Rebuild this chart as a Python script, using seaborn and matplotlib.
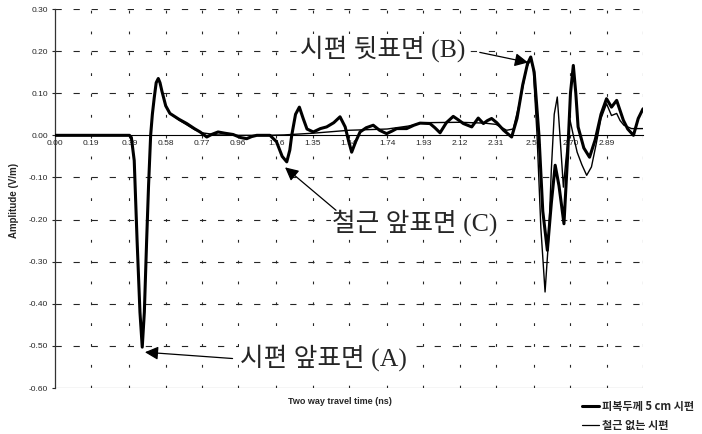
import numpy as np
import pandas as pd
import matplotlib
matplotlib.use("Agg")
import matplotlib.pyplot as plt
import seaborn as sns
from matplotlib.lines import Line2D

# two way travel time (ns) and amplitude (V/m)
t_cover5 = [0.00, 0.39, 0.40, 0.415, 0.43, 0.445, 0.457, 0.468, 0.48, 0.49, 0.501, 0.51,
            0.52, 0.53, 0.541, 0.55, 0.56, 0.58, 0.602,
            0.65, 0.69, 0.73, 0.76, 0.795, 0.82, 0.854, 0.89, 0.933, 0.97, 1.004, 1.03,
            1.057, 1.126, 1.16, 1.19, 1.214, 1.23, 1.24, 1.26, 1.28, 1.30, 1.32, 1.353,
            1.39, 1.423, 1.46, 1.493, 1.52, 1.536, 1.554, 1.575, 1.598, 1.63, 1.667, 1.70,
            1.737, 1.765, 1.79, 1.842, 1.88, 1.912, 1.964, 1.99, 2.017, 2.05, 2.086, 2.115,
            2.139, 2.183, 2.217, 2.244, 2.265, 2.287, 2.314, 2.35, 2.392, 2.42, 2.45, 2.475,
            2.492, 2.51, 2.535, 2.555, 2.579, 2.60, 2.62, 2.64, 2.666, 2.685, 2.70, 2.715,
            2.728, 2.74, 2.77, 2.80, 2.83, 2.86, 2.889, 2.915, 2.942, 2.977, 3.00, 3.03,
            3.055, 3.08]
a_cover5 = [0.0, 0.0, -0.005, -0.06, -0.25, -0.42, -0.503, -0.42, -0.25, -0.12, 0.0, 0.05,
            0.09, 0.125, 0.135, 0.125, 0.105, 0.07, 0.052,
            0.038, 0.028, 0.016, 0.008, -0.004, 0.002, 0.008, 0.005, 0.002, -0.005, -0.008, -0.003,
            0.0, 0.0, -0.015, -0.05, -0.063, -0.035, 0.0, 0.05, 0.067, 0.04, 0.015, 0.008,
            0.016, 0.02, 0.03, 0.044, 0.02, -0.01, -0.04, -0.015, 0.008, 0.018, 0.024, 0.012,
            0.004, 0.01, 0.016, 0.016, 0.024, 0.029, 0.028, 0.018, 0.006, 0.03, 0.045, 0.036,
            0.028, 0.02, 0.041, 0.028, 0.035, 0.04, 0.03, 0.012, -0.004, 0.04, 0.12, 0.17,
            0.186, 0.15, 0.0, -0.18, -0.273, -0.16, -0.071, -0.12, -0.21, -0.05, 0.10, 0.166,
            0.10, 0.02, -0.03, -0.052, -0.01, 0.05, 0.087, 0.067, 0.083, 0.036, 0.015, 0.0,
            0.04, 0.063]

t_norebar = [0.00, 0.39, 0.40, 0.415, 0.43, 0.445, 0.457, 0.468, 0.48, 0.49, 0.501, 0.51,
             0.52, 0.53, 0.541, 0.55, 0.56, 0.58, 0.602,
             0.65, 0.69, 0.73, 0.77, 0.85, 0.96, 1.10, 1.20, 1.35, 1.54, 1.74, 1.85, 1.93,
             2.12, 2.25, 2.31, 2.366, 2.40, 2.44, 2.47, 2.49, 2.505, 2.525, 2.545, 2.567,
             2.585, 2.60, 2.615, 2.631, 2.645, 2.663, 2.68, 2.698, 2.715, 2.735, 2.76, 2.785,
             2.81, 2.835, 2.86, 2.889, 2.915, 2.942, 2.96, 2.98, 3.02, 3.08]
a_norebar = [0.0, 0.0, -0.005, -0.06, -0.25, -0.42, -0.503, -0.42, -0.25, -0.12, 0.0, 0.05,
             0.09, 0.125, 0.135, 0.125, 0.105, 0.07, 0.052,
             0.036, 0.025, 0.014, 0.006, 0.001, 0.0, 0.0, 0.001, 0.005, 0.012, 0.015, 0.022, 0.03,
             0.031, 0.029, 0.026, 0.012, 0.015, 0.09, 0.16, 0.18, 0.16, 0.0, -0.22, -0.372,
             -0.25, -0.08, 0.05, 0.091, 0.0, -0.123, -0.04, 0.036, 0.0, -0.04, -0.07, -0.095,
             -0.075, -0.02, 0.04, 0.075, 0.047, 0.052, 0.035, 0.024, 0.016, 0.016]

x_tick_labels = ["0.00", "0.19", "0.39", "0.58", "0.77", "0.96", "1.16", "1.35",
                 "1.54", "1.74", "1.93", "2.12", "2.31", "2.51", "2.70", "2.89"]
y_ticks = [0.3, 0.2, 0.1, 0.0, -0.1, -0.2, -0.3, -0.4, -0.5, -0.6]

label_cover5 = "피복두께 5 cm 시편"
label_norebar = "철근 없는 시편"

sns.set_style("white")
plt.rcParams["font.family"] = ["Liberation Sans", "Noto Sans CJK KR", "DejaVu Sans"]
plt.rcParams["lines.scale_dashes"] = False

fig = plt.figure(figsize=(7.02, 4.34), dpi=100)
ax = fig.add_axes([55 / 702, 1 - 388 / 434, 588 / 702, 379 / 434])

x_max = 3.08
ax.set_xlim(0, x_max)
ax.set_ylim(-0.6, 0.3)

# grid: sparse dashes like the scanned excel chart
for y in y_ticks:
    if y in (0.0, -0.6):
        continue
    ax.axhline(y, color="0.15", lw=0.8, dashes=(4.5, 8.5), zorder=1)
grid_x = [float(s) for s in x_tick_labels[1:]] + [x_max]
for x in grid_x:
    ax.axvline(x, color="0.15", lw=0.8, dashes=(2.0, 13.0), zorder=1)
ax.axhline(-0.6, color="0.3", lw=0.8, zorder=1)

sns.lineplot(x=t_norebar, y=a_norebar, ax=ax, color="black", lw=1.0,
             estimator=None, sort=False, zorder=3)
sns.lineplot(x=t_cover5, y=a_cover5, ax=ax, color="black", lw=2.2,
             estimator=None, sort=False, zorder=4)

for s in ["top", "right"]:
    ax.spines[s].set_visible(False)
ax.spines["bottom"].set_position(("data", 0))
ax.spines["bottom"].set_linewidth(0.8)
ax.spines["left"].set_linewidth(0.9)
ax.spines["bottom"].set_color("black")
ax.spines["left"].set_color("0.2")

ax.set_xticks([float(s) for s in x_tick_labels])
ax.set_xticklabels(x_tick_labels, fontsize=6)
ax.set_yticks(y_ticks)
ax.set_yticklabels([f"{v:.2f}" for v in y_ticks], fontsize=6)
ax.tick_params(axis="x", length=0, pad=3)
ax.tick_params(axis="y", length=2, pad=3, direction="out", left=True)

fig.text(14 / 702, 1 - 200 / 434, "Amplitude (V/m)", rotation=90, fontsize=7,
         fontweight="bold", ha="center", va="center")
fig.text(340 / 702, 1 - 401 / 434, "Two way travel time (ns)", fontsize=6.5,
         fontweight="bold", ha="center", va="center")

ann_font = ["Liberation Serif", "Noto Sans CJK KR"]
box = dict(facecolor="white", edgecolor="none", pad=0.5)
arrow = dict(arrowstyle="-|>", mutation_scale=20, lw=0.9, color="black",
             shrinkA=0, shrinkB=0)
# labels
ax.text(0.969, -0.527, "시편 앞표면 (A)", fontsize=18.5, family=ann_font,
        va="center", ha="left", bbox=box, zorder=5)
ax.text(1.283, 0.207, "시편 뒷표면 (B)", fontsize=18.5, family=ann_font,
        va="center", ha="left", bbox=box, zorder=5)
ax.text(1.451, -0.207, "철근 앞표면 (C)", fontsize=18.5, family=ann_font,
        va="center", ha="left", bbox=box, zorder=5)
# arrows
ax.annotate("", xy=(0.471, -0.515), xytext=(0.93, -0.53), arrowprops=arrow, zorder=6)
ax.annotate("", xy=(2.478, 0.173), xytext=(2.225, 0.197), arrowprops=arrow, zorder=6)
ax.annotate("", xy=(1.205, -0.076), xytext=(1.472, -0.178), arrowprops=arrow, zorder=6)

handles = [Line2D([], [], color="black", lw=2.2), Line2D([], [], color="black", lw=0.9)]
fig.legend(handles, [label_cover5, label_norebar], loc="upper left",
           bbox_to_anchor=(576 / 702, 1 - 394 / 434), frameon=False,
           prop={"family": ["Noto Sans CJK KR"], "size": 8, "weight": "bold"},
           handlelength=1.6, handletextpad=0.2, labelspacing=0.6, borderpad=0)

fig.savefig("out.png", dpi=100)
